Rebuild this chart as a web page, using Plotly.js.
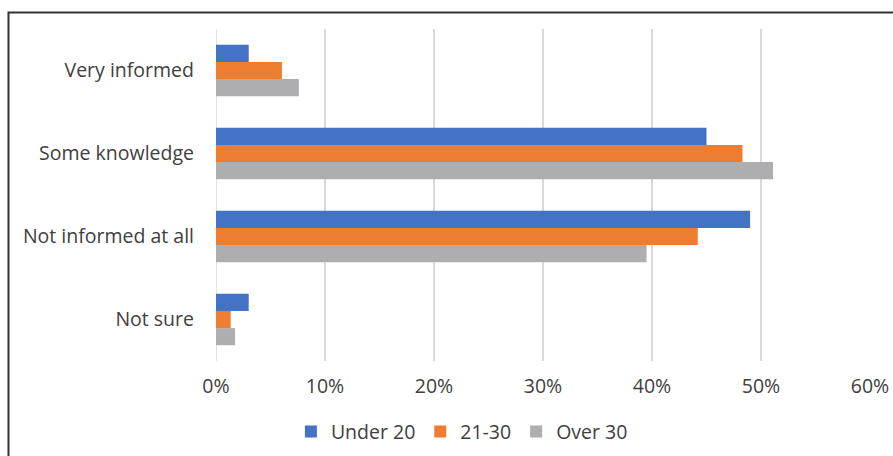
<!DOCTYPE html>
<html>
<head>
<meta charset="utf-8">
<script src="https://cdn.plot.ly/plotly-3.0.1.min.js"></script>
<style>
html,body{margin:0;padding:0;background:#fff;}
#chart{width:893px;height:456px;}
</style>
</head>
<body>
<div id="chart"></div>
<script>
const categories = ["Very informed", "Some knowledge", "Not informed at all", "Not sure"];
const seriesNames = ["Under 20", "21-30", "Over 30"];
const under20 = [3.0, 45.0, 49.0, 3.0];
const age21to30 = [6.05, 48.3, 44.2, 1.35];
const over30 = [7.6, 51.1, 39.5, 1.75];
const tickVals = [0, 10, 20, 30, 40, 50, 60];
const tickText = ["0%", "10%", "20%", "30%", "40%", "50%", "60%"];
const colors = ["#4472C4", "#ED7D31", "#AEAEB1"];

const values = [under20, age21to30, over30];
const traces = values.map((v, i) => ({
  type: "bar",
  orientation: "h",
  name: seriesNames[i],
  y: categories,
  x: v,
  marker: {color: colors[i]},
  hoverinfo: "x+y"
}));

const font = {family: "Open Sans, Lato, sans-serif", size: 19.5, color: "#404040"};

const layout = {
  width: 893, height: 456,
  margin: {l: 216, r: 23, t: 29, b: 95, autoexpand: false},
  paper_bgcolor: "#ffffff",
  plot_bgcolor: "#ffffff",
  font: font,
  barmode: "group",
  bargap: 0.38,
  bargroupgap: 0,
  showlegend: true,
  legend: {
    orientation: "h",
    xref: "paper", yref: "container",
    x: 0.376, xanchor: "center",
    y: 0.053, yanchor: "middle",
    font: font,
    traceorder: "normal",
    itemclick: false
  },
  xaxis: {
    range: [0, 60],
    tickvals: tickVals,
    ticktext: tickText,
    showgrid: true,
    gridcolor: "#D9D9D9",
    gridwidth: 1.5,
    zeroline: false,
    showline: false,
    ticks: "",
    ticklabelstandoff: 11,
    tickfont: font,
    automargin: false,
    fixedrange: true
  },
  yaxis: {
    type: "category",
    autorange: "reversed",
    showgrid: false,
    zeroline: false,
    showline: false,
    ticks: "",
    ticklabelstandoff: 21,
    tickfont: font,
    automargin: false,
    fixedrange: true
  },
  shapes: [
    {type: "line", xref: "x", yref: "paper", x0: 0, x1: 0, y0: 0, y1: 1,
     line: {color: "#D9D9D9", width: 1.5}, layer: "below"},
    {type: "rect", xref: "paper", yref: "paper",
     x0: -0.3173, x1: 2, y0: -1, y1: 1.0497,
     line: {color: "#333333", width: 2}, fillcolor: "rgba(0,0,0,0)"}
  ]
};

Plotly.newPlot("chart", traces, layout, {displayModeBar: false, staticPlot: true});
</script>
</body>
</html>
